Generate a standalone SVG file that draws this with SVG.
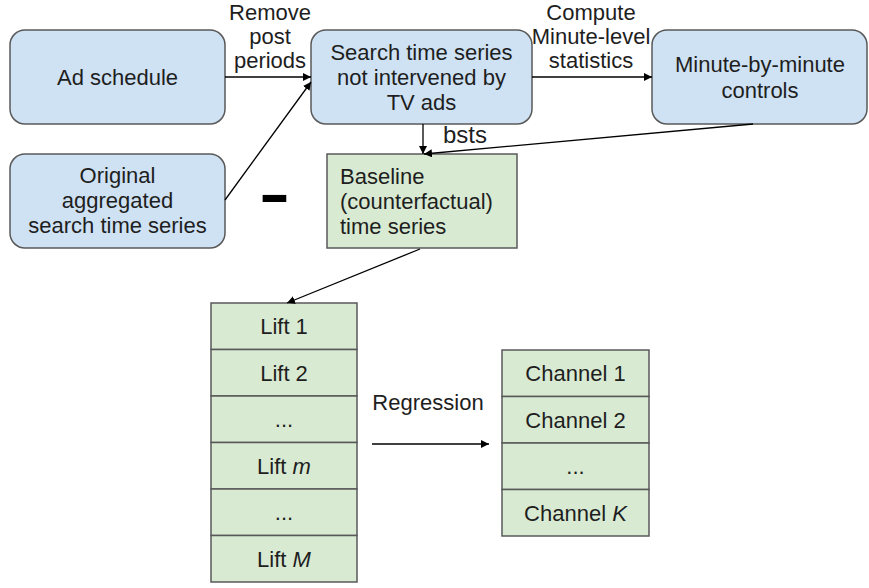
<svg xmlns="http://www.w3.org/2000/svg" width="869" height="588" viewBox="0 0 869 588">
<defs>
<marker id="ah" viewBox="0 0 10 10" refX="10" refY="5" markerWidth="8" markerHeight="8" markerUnits="userSpaceOnUse" orient="auto">
<path d="M0,0 L10,5 L0,10 z" fill="#000"/>
</marker>
</defs>
<style>
text{font-family:"Liberation Sans",Arial,sans-serif;font-size:22px;fill:#1e1e1e}
.c{text-anchor:middle}
.blue{fill:#cfe2f3;stroke:#595959;stroke-width:1.5}
.green{fill:#d9ead3;stroke:#595959;stroke-width:1.5}
.conn line{stroke:#000;stroke-width:1.3;marker-end:url(#ah)}
</style>
<rect width="869" height="588" fill="#fff"/>
<g id="ad-schedule">
<rect class="blue" x="10" y="30" width="215" height="94" rx="15"/>
<text class="c" x="117.5" y="85">Ad schedule</text>
</g>
<g id="original">
<rect class="blue" x="10" y="154" width="215" height="94" rx="15"/>
<text class="c" x="117.5" y="183">Original</text>
<text class="c" x="117.5" y="208">aggregated</text>
<text class="c" x="117.5" y="233">search time series</text>
</g>
<g id="search">
<rect class="blue" x="311" y="30" width="221" height="94" rx="15"/>
<text class="c" x="421.5" y="60">Search time series</text>
<text class="c" x="421.5" y="85">not intervened by</text>
<text class="c" x="421.5" y="110">TV ads</text>
</g>
<g id="minute">
<rect class="blue" x="652" y="30" width="215" height="94" rx="15"/>
<text class="c" x="760" y="72">Minute-by-minute</text>
<text class="c" x="760" y="98">controls</text>
</g>
<g id="baseline">
<rect class="green" x="327" y="154" width="190" height="94"/>
<text x="340" y="184">Baseline</text>
<text x="340" y="209">(counterfactual)</text>
<text x="340" y="234">time series</text>
</g>
<g id="minus">
<text transform="translate(274.5,214) scale(1.55,1)" class="c" style="font-size:60px;font-weight:bold;fill:#000">-</text>
</g>
<g id="lifts">
<rect class="green" x="211" y="303" width="146" height="46.5"/>
<rect class="green" x="211" y="349.5" width="146" height="46.5"/>
<rect class="green" x="211" y="396" width="146" height="46.5"/>
<rect class="green" x="211" y="442.5" width="146" height="46.5"/>
<rect class="green" x="211" y="489" width="146" height="46.5"/>
<rect class="green" x="211" y="535.5" width="146" height="46.5"/>
<text class="c" x="284" y="334">Lift 1</text>
<text class="c" x="284" y="380.5">Lift 2</text>
<text class="c" x="284" y="427">...</text>
<text class="c" x="284" y="473.5">Lift <tspan font-style="italic">m</tspan></text>
<text class="c" x="284" y="520">...</text>
<text class="c" x="284" y="566.5">Lift <tspan font-style="italic">M</tspan></text>
</g>
<g id="channels">
<rect class="green" x="502" y="350" width="147" height="46.5"/>
<rect class="green" x="502" y="396.5" width="147" height="46.5"/>
<rect class="green" x="502" y="443" width="147" height="46.5"/>
<rect class="green" x="502" y="489.5" width="147" height="46.5"/>
<text class="c" x="575.5" y="381">Channel 1</text>
<text class="c" x="575.5" y="427.5">Channel 2</text>
<text class="c" x="575.5" y="474">...</text>
<text class="c" x="575.5" y="520.5">Channel <tspan font-style="italic">K</tspan></text>
</g>
<g id="connectors" class="conn">
<line x1="225" y1="77" x2="311" y2="77"/>
<line x1="225" y1="200" x2="311" y2="82"/>
<line x1="532" y1="77" x2="652" y2="77"/>
<line x1="423" y1="124" x2="423" y2="154"/>
<line x1="753" y1="124" x2="424" y2="154"/>
<line x1="420" y1="249" x2="287" y2="303"/>
<line x1="372" y1="444" x2="489" y2="444"/>
<text class="c" x="270" y="20">Remove</text>
<text class="c" x="270" y="44">post</text>
<text class="c" x="270" y="68">periods</text>
<text class="c" x="591" y="20">Compute</text>
<text class="c" x="591" y="44">Minute-level</text>
<text class="c" x="591" y="68">statistics</text>
<text x="443" y="143" style="font-size:24px">bsts</text>
<text class="c" x="428" y="410">Regression</text>
</g>
</svg>
